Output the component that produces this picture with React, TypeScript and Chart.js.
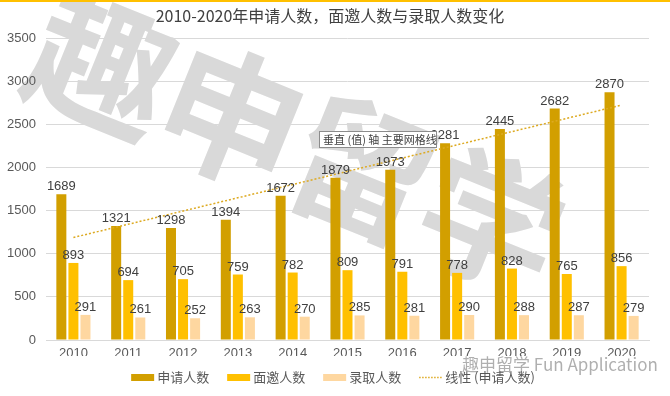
import { useEffect, useRef } from 'react';
import { Chart, registerables } from 'chart.js';

Chart.register(...registerables);

const titleText = '2010-2020年申请人数，面邀人数与录取人数变化';
const years = ['2010', '2011', '2012', '2013', '2014', '2015', '2016', '2017', '2018', '2019', '2020'];
const applicants = [1689, 1321, 1298, 1394, 1672, 1879, 1973, 2281, 2445, 2682, 2870];
const interviews = [893, 694, 705, 759, 782, 809, 791, 778, 828, 765, 856];
const admissions = [291, 261, 252, 263, 270, 285, 281, 290, 288, 287, 279];
// 线性趋势线 (申请人数) 的首尾读数
const trendEnds = [1188, 2722];
const seriesNames = ['申请人数', '面邀人数', '录取人数', '线性 (申请人数)'];
const yMin = 0;
const yMax = 3500;
const yStep = 500;
const watermarkChars = ['趣', '申', '留', '学'];
const tooltipText = '垂直 (值) 轴 主要网格线';
const brandText = '趣申留学 Fun Application';

const LATIN = '"Liberation Sans", Arial, "Noto Sans CJK SC", sans-serif';
const CJK = '"Noto Sans CJK SC", "Liberation Sans", sans-serif';

export default function App() {
  const ref = useRef<HTMLCanvasElement | null>(null);

  useEffect(() => {
    document.body.style.margin = '0';
    const canvas = ref.current;
    if (!canvas) return;

    const trendData = years.map((_, i) =>
      i === 0 ? trendEnds[0] : i === years.length - 1 ? trendEnds[1] : null
    );

    const decor = {
      id: 'decor',
      beforeDatasetsDraw(chart: any) {
        const ctx = chart.ctx;
        ctx.save();
        ctx.fillStyle = '#D9D9D9';
        ctx.font = 'bold 142px ' + CJK;
        ctx.textAlign = 'center';
        ctx.textBaseline = 'middle';
        const ang = (22 * Math.PI) / 180;
        watermarkChars.forEach((c, i) => {
          ctx.save();
          ctx.translate(102 + i * 140 * Math.cos(ang), 64 + i * 140 * Math.sin(ang));
          ctx.rotate(ang);
          ctx.fillText(c, 0, 0);
          ctx.restore();
        });
        ctx.restore();
      },
      afterDatasetsDraw(chart: any) {
        const ctx = chart.ctx;
        ctx.save();
        ctx.font = '13px ' + LATIN;
        ctx.fillStyle = '#404040';
        ctx.textAlign = 'center';
        ctx.textBaseline = 'alphabetic';
        [0, 1, 2].forEach((di) => {
          const meta = chart.getDatasetMeta(di);
          meta.data.forEach((el: any, i: number) => {
            ctx.fillText(String(chart.data.datasets[di].data[i]), el.x, el.y - 4);
          });
        });
        ctx.restore();
      },
      afterDraw(chart: any) {
        const ctx = chart.ctx;
        ctx.save();
        // top border
        ctx.fillStyle = '#FFC000';
        ctx.fillRect(0, 0, chart.width, 2);
        // title
        ctx.fillStyle = '#404040';
        ctx.font = '16px ' + CJK;
        ctx.textAlign = 'center';
        ctx.textBaseline = 'middle';
        ctx.fillText(titleText, 330, 16);

        // legend
        ctx.font = '13px ' + CJK;
        ctx.textBaseline = 'middle';
        ctx.textAlign = 'left';
        const ds = chart.data.datasets;
        const boxW = 23;
        const gapText = 3;
        const gapItem = 18;
        const widths = ds.map((d: any) => boxW + gapText + ctx.measureText(d.label).width);
        const total = widths.reduce((a: number, b: number) => a + b, 0) + gapItem * (ds.length - 1);
        let x = 333 - total / 2;
        const ly = 377;
        ds.forEach((d: any, i: number) => {
          if (d.type === 'line') {
            ctx.save();
            ctx.strokeStyle = d.borderColor;
            ctx.lineWidth = 1.5;
            ctx.setLineDash([1.5, 1.5]);
            ctx.beginPath();
            ctx.moveTo(x, ly + 0.5);
            ctx.lineTo(x + boxW, ly + 0.5);
            ctx.stroke();
            ctx.restore();
          } else {
            ctx.fillStyle = d.backgroundColor;
            ctx.fillRect(x, ly - 3, boxW, 7);
          }
          ctx.fillStyle = '#595959';
          ctx.fillText(d.label, x + boxW + gapText, ly);
          x += widths[i] + gapItem;
        });

        // hover tooltip box
        ctx.fillStyle = '#FFFFFF';
        ctx.fillRect(319.5, 131.5, 117, 16);
        ctx.strokeStyle = '#8C8C8C';
        ctx.lineWidth = 1;
        ctx.strokeRect(319.5, 131.5, 117, 16);
        ctx.fillStyle = '#404040';
        ctx.font = '11px ' + CJK;
        ctx.textAlign = 'left';
        ctx.textBaseline = 'middle';
        ctx.fillText(tooltipText, 323, 140);
        // brand watermark
        ctx.fillStyle = 'rgba(110,110,110,0.55)';
        ctx.font = '17px ' + CJK;
        ctx.textBaseline = 'alphabetic';
        ctx.fillText(brandText, 462, 371);
        ctx.restore();
      },
    };

    const barCommon = {
      borderWidth: 0,
      categoryPercentage: 0.66,
      barPercentage: 0.83,
    };

    const chart = new Chart(canvas, {
      type: 'bar',
      data: {
        labels: years,
        datasets: [
          { label: seriesNames[0], data: applicants, backgroundColor: '#D29F00', ...barCommon } as any,
          { label: seriesNames[1], data: interviews, backgroundColor: '#FFC000', ...barCommon } as any,
          { label: seriesNames[2], data: admissions, backgroundColor: '#FED7A0', ...barCommon } as any,
          {
            type: 'line',
            label: seriesNames[3],
            data: trendData,
            borderColor: '#DDAA22',
            backgroundColor: '#DDAA22',
            borderWidth: 1.5,
            borderDash: [2, 2],
            pointRadius: 0,
            spanGaps: true,
            fill: false,
            order: -1,
          } as any,
        ],
      },
      options: {
        animation: false,
        responsive: false,
        devicePixelRatio: 1,
        layout: { padding: { top: 38, bottom: 40, left: 0, right: 21 } },
        plugins: {
          title: { display: false },
          tooltip: { enabled: false },
          legend: { display: false },
        },
        scales: {
          x: {
            grid: { display: false, drawTicks: false },
            border: { display: true, color: '#D9D9D9' },
            ticks: { z: 1, color: '#595959', font: { size: 13, family: LATIN }, padding: 6, maxRotation: 0 },
            afterFit: (s: any) => {
              s.height = 16;
            },
          },
          y: {
            min: yMin,
            max: yMax,
            grid: { color: '#D9D9D9', drawTicks: false },
            border: { display: false },
            ticks: {
              z: 1,
              stepSize: yStep,
              color: '#595959',
              font: { size: 13, family: LATIN },
              padding: 10,
              callback: (v: any) => String(v),
            },
            afterFit: (s: any) => {
              s.width = 46;
            },
          },
        },
      },
      plugins: [decor],
    });

    return () => chart.destroy();
  }, []);

  return <canvas ref={ref} width={670} height={396} style={{ display: 'block' }} />;
}
